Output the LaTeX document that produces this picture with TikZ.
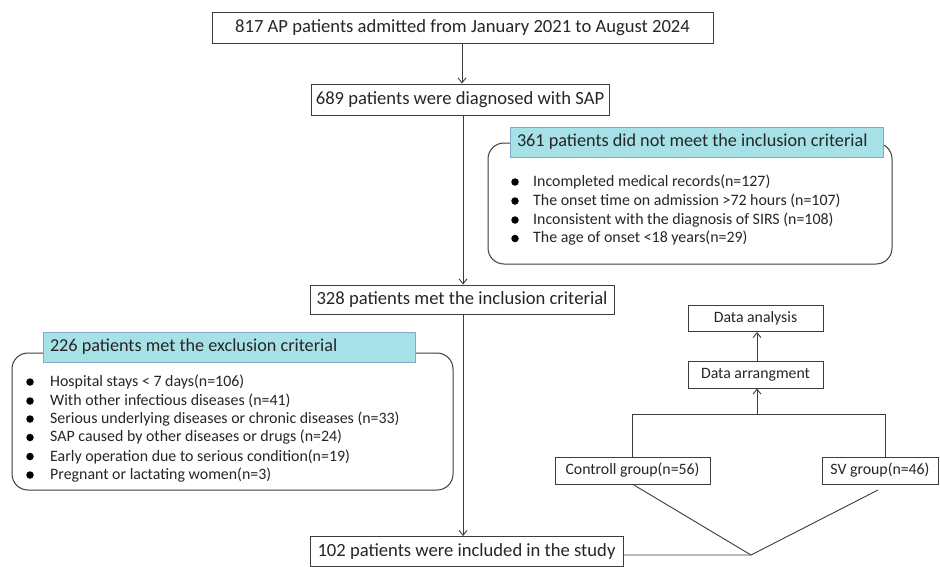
\documentclass[tikz,border=0pt]{standalone}
\usepackage{fontspec}
\setmainfont{Carlito}
\usetikzlibrary{arrows.meta}
\definecolor{ln}{RGB}{60,60,60}
\definecolor{cy}{RGB}{165,225,230}
\definecolor{cyb}{RGB}{130,170,200}
\tikzset{
  box/.style={draw=ln, line width=0.9pt, fill=white, inner sep=0pt, anchor=center, font=\fontsize{18.6}{22}\selectfont, text=black!85},
  sbox/.style={box, font=\fontsize{15.8}{18}\selectfont},
  title/.style={draw=cyb, line width=0.7pt, fill=cy, inner xsep=7pt, inner ysep=0pt, align=flush left, font=\fontsize{18.2}{21}\selectfont, text=black!85},
  cbox/.style={draw=ln, line width=1pt, rounded corners=16pt},
  item/.style={anchor=west, inner sep=0pt, font=\fontsize{15.9}{19}\selectfont, text=black!85},
  dot/.style={circle, fill=black, inner sep=0pt, minimum size=7.5pt},
  conn/.style={draw=ln, line width=0.9pt},
  arr/.style={conn, -{Straight Barb[length=5pt,width=8pt]}},
}
\begin{document}
\begin{tikzpicture}[x=1pt,y=-1pt]
\useasboundingbox (0,0) rectangle (940,566);
\fill[white] (0,0) rectangle (940,566);

% main flow
\node[box, minimum width=501pt, minimum height=31pt] (b1) at (462.5,27.5) {817 AP patients admitted from January 2021 to August 2024};
\node[box, minimum width=298pt, minimum height=31pt] (b2) at (460,99.5) {689 patients were diagnosed with SAP};
\node[box, minimum width=304pt, minimum height=29pt] (b3) at (462,299.5) {328 patients met the inclusion criterial};
\node[box, minimum width=313pt, minimum height=30pt] (b4) at (466.5,551.5) {102 patients were included in the study};

\draw[arr] (b1.south -| 462,0) -- (b2.north -| 462,0);
\draw[arr] (b2.south -| 463,0) -- (b3.north -| 463,0);
\draw[arr] (b3.south -| 463,0) -- (b4.north -| 463,0);

% inclusion callout
\draw[cbox] (488,143) rectangle (892,264);
\node[title, text width=359pt, minimum height=30pt] (t1) at (696.5,142) {361 patients did not meet the inclusion criterial};
\foreach \y/\t [count=\i] in {182/Incompleted medical records(n=127),
  201/The onset time on admission >72 hours (n=107),
  220/Inconsistent with the diagnosis of SIRS (n=108),
  238.5/The age of onset <18 years(n=29)} {
  \node[dot] (ia\i) at (515,\y) {};
  \node[item] (it\i) at (533,\y) {\t};
}

% exclusion callout
\draw[cbox] (12,353) rectangle (453,490);
\node[title, text width=358pt, minimum height=30pt] (t2) at (229,347) {226 patients met the exclusion criterial};
\foreach \y/\t [count=\i] in {382/Hospital stays < 7 days(n=106),
  401/With other infectious diseases (n=41),
  419/Serious underlying diseases or chronic diseases (n=33),
  437.5/SAP caused by other diseases or drugs (n=24),
  456.5/Early operation due to serious condition(n=19),
  475/Pregnant or lactating women(n=3)} {
  \node[dot] (ea\i) at (30,\y) {};
  \node[item] (et\i) at (50,\y) {\t};
}

% right branch
\node[sbox, minimum width=135pt, minimum height=26pt] (da) at (755.5,318.5) {Data analysis};
\node[sbox, minimum width=135pt, minimum height=27pt] (dr) at (755.5,374.5) {Data arrangment};
\node[sbox, minimum width=155pt, minimum height=27pt] (cg) at (632.5,470.5) {Controll group(n=56)};
\node[sbox, minimum width=116pt, minimum height=27pt] (sv) at (880,470.5) {SV group(n=46)};

\coordinate (hj) at (757,414);
\coordinate (vx) at (751,555);
\coordinate (svend) at (878,490);
\draw[arr] (dr.north -| 757,0) -- (da.south -| 757,0);
\draw[arr] (hj) -- (dr.south -| 757,0);
\draw[conn] (cg.north -| 632,0) -- (632,414) -- (885,414) -- (sv.north -| 885,0);
\draw[conn] (b4.east |- vx) -- (vx) -- (svend);
\draw[conn] (vx) -- (cg.south -| 633,0);
\end{tikzpicture}
\end{document}
